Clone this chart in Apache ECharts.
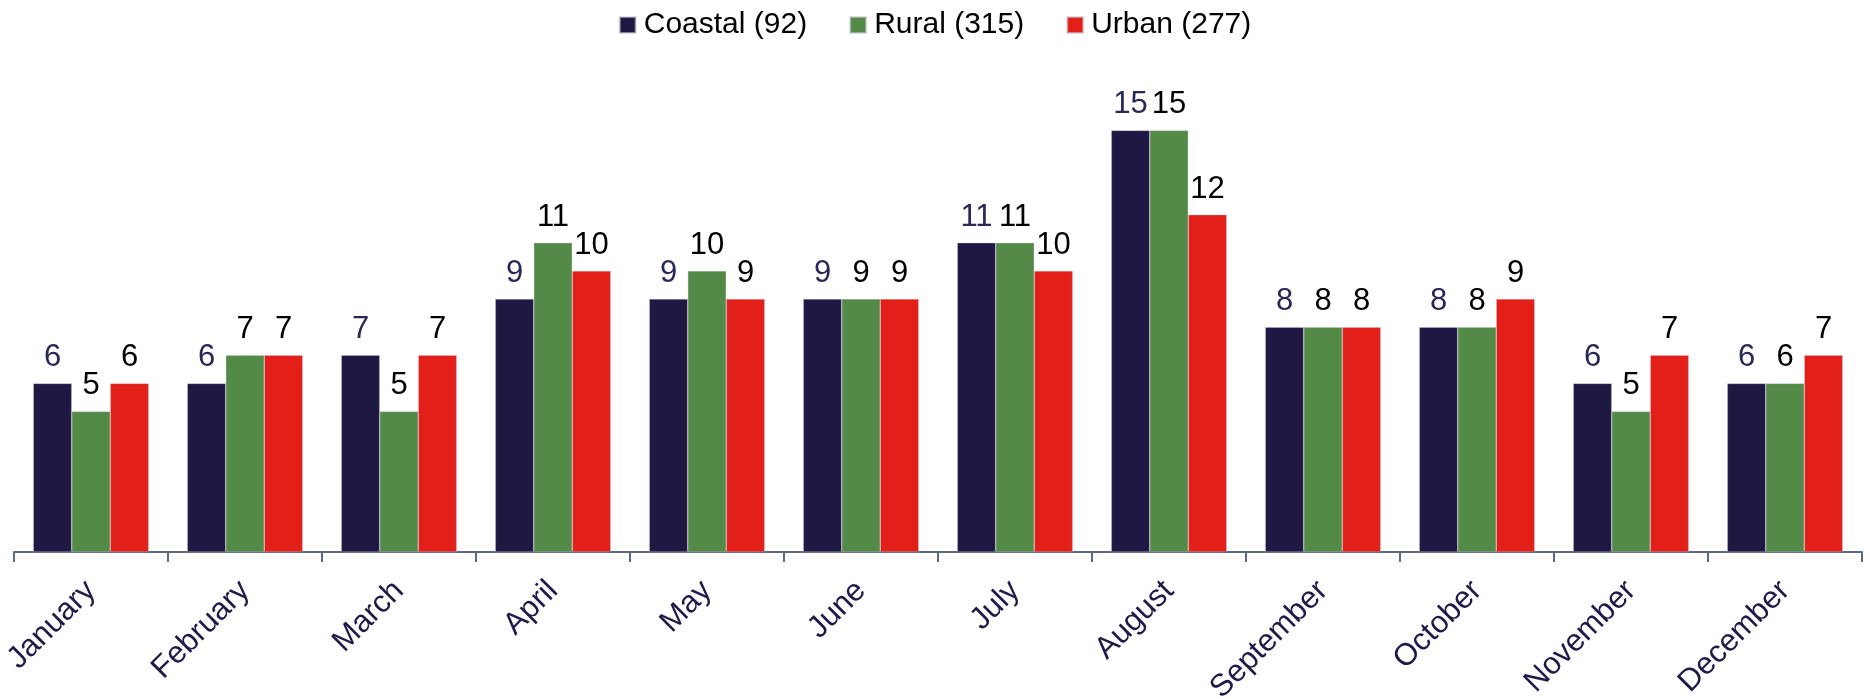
<!DOCTYPE html>
<html>
<head>
<meta charset="utf-8">
<script src="https://cdn.jsdelivr.net/npm/echarts@6/dist/echarts.min.js"></script>
<style>
  html, body { margin: 0; padding: 0; background: #ffffff; }
  #chart { width: 1870px; height: 699px; }
</style>
</head>
<body>
<div id="chart"></div>
<script>
// Monthly share by area type
const months = ['January', 'February', 'March', 'April', 'May', 'June', 'July', 'August', 'September', 'October', 'November', 'December'];
const seriesNames = ['Coastal (92)', 'Rural (315)', 'Urban (277)'];
const coastal = [6, 6, 7, 9, 9, 9, 11, 15, 8, 8, 6, 6];
const rural = [5, 7, 5, 11, 10, 9, 11, 15, 8, 8, 5, 6];
const urban = [6, 7, 7, 10, 9, 9, 10, 12, 8, 9, 7, 7];

const colors = ['#1f1843', '#548a47', '#e31f1a'];
const labelColors = ['#2a2857', '#000000', '#000000'];
const font = '"Liberation Sans", Arial, sans-serif';

const chart = echarts.init(document.getElementById('chart'), null, { renderer: 'canvas' });

const makeSeries = (name, data, i) => ({
  name: name,
  type: 'bar',
  data: data,
  barGap: '0%',
  barCategoryGap: '25%',
  itemStyle: { color: colors[i], borderColor: 'rgba(200,200,210,0.6)', borderWidth: 0.6 },
  label: {
    show: true,
    position: 'top',
    distance: 10,
    color: labelColors[i],
    fontSize: 31,
    fontFamily: font
  }
});

chart.setOption({
  animation: false,
  textStyle: { fontFamily: font },
  legend: {
    top: 5,
    left: 'center',
    icon: 'rect',
    itemWidth: 16,
    itemHeight: 16,
    itemGap: 42,
    textStyle: { fontSize: 30, color: '#000', fontFamily: font, padding: [0, 0, 0, 3] },
    data: seriesNames
  },
  grid: { left: 14, right: 8, top: 46, bottom: 147, containLabel: false, outerBoundsMode: 'none' },
  xAxis: {
    type: 'category',
    data: months,
    axisLine: { show: true, lineStyle: { color: '#5d6b80', width: 2 } },
    axisTick: { show: true, length: 10, lineStyle: { color: '#5d6b80', width: 2 } },
    axisLabel: {
      rotate: 45,
      margin: 34,
      interval: 0,
      color: '#1f1a48',
      fontSize: 31,
      fontFamily: font
    }
  },
  yAxis: {
    type: 'value',
    min: 0,
    max: 18,
    show: false,
    splitLine: { show: false }
  },
  series: [
    makeSeries(seriesNames[0], coastal, 0),
    makeSeries(seriesNames[1], rural, 1),
    makeSeries(seriesNames[2], urban, 2)
  ]
});
</script>
</body>
</html>
